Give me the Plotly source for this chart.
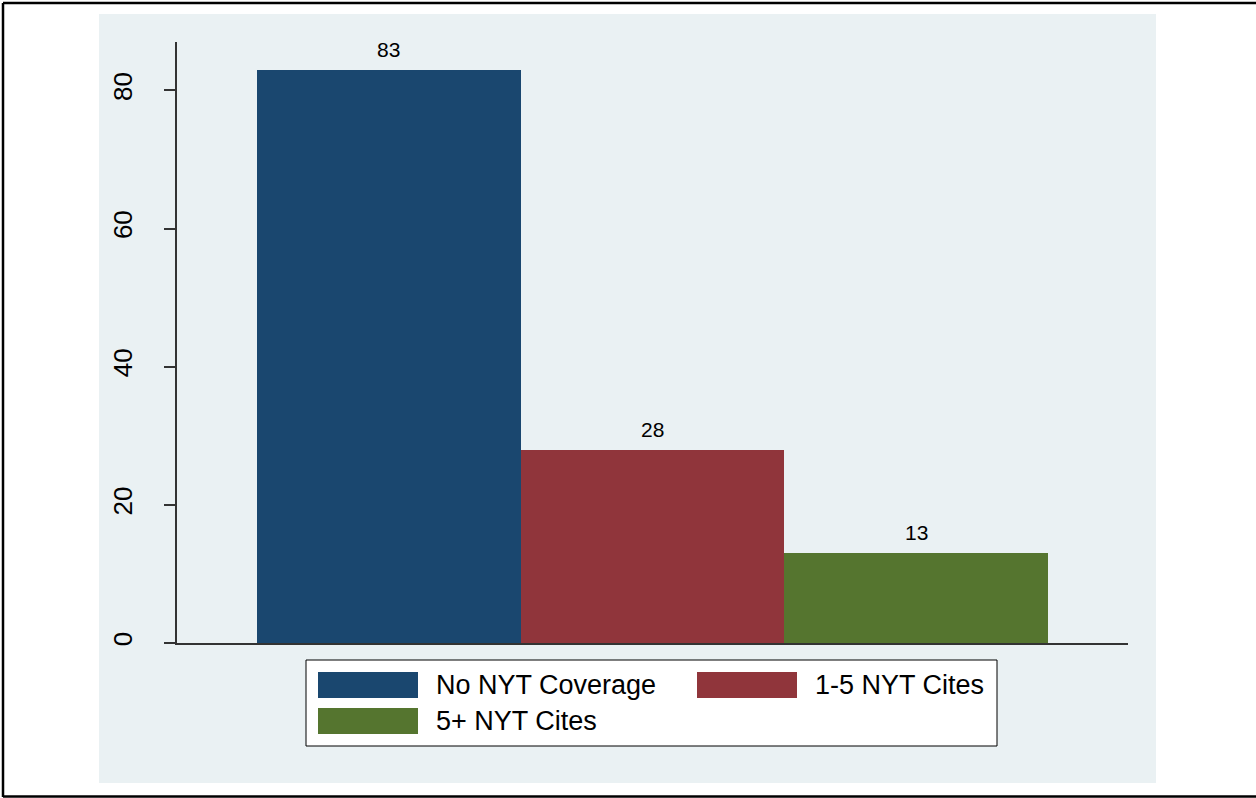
import plotly.graph_objects as go

# ---- data ----
categories = ["No NYT Coverage", "1-5 NYT Cites", "5+ NYT Cites"]
values = [83, 28, 13]
colors = ["#1a476f", "#90353b", "#55752f"]
ytick_vals = [0, 20, 40, 60, 80]

W, H = 1256, 798
L, R, T, B = 177, 1128, 42, 643  # plot area in pixels
PW, PH = R - L, B - T


def px(x):
    return (x - L) / PW


def py(y):
    return (B - y) / PH


fig = go.Figure()
fig.add_trace(go.Bar(
    x=categories, y=values, width=1.0,
    marker=dict(color=colors, line=dict(width=0)),
    showlegend=False, hoverinfo="skip",
))

annotations = []
for c, v in zip(categories, values):
    annotations.append(dict(x=c, y=v, xref="x", yref="y", text=str(v),
                            showarrow=False, yanchor="bottom", yshift=7,
                            font=dict(size=21, color="black")))

shapes = []
# outer light background
shapes.append(dict(type="rect", xref="paper", yref="paper",
                   x0=px(99), x1=px(1156), y0=py(783), y1=py(14),
                   fillcolor="#eaf1f3", line=dict(width=0), layer="below"))
# outer black border (left, top, bottom)
for (x0, y0, x1, y1) in [(3, 3, 3, 797), (3, 3, 1256, 3), (3, 796.5, 1256, 796.5)]:
    shapes.append(dict(type="line", xref="paper", yref="paper",
                       x0=px(x0), y0=py(y0), x1=px(x1), y1=py(y1),
                       line=dict(color="black", width=2.5)))
# legend box
shapes.append(dict(type="rect", xref="paper", yref="paper",
                   x0=px(306), x1=px(997), y0=py(746), y1=py(660),
                   fillcolor="white", line=dict(color="black", width=1)))
legend_pos = [(318, 672), (697, 672), (318, 708)]
for (lx, ly), col, name in zip(legend_pos, colors, categories):
    shapes.append(dict(type="rect", xref="paper", yref="paper",
                       x0=px(lx), x1=px(lx + 100), y0=py(ly + 26), y1=py(ly),
                       fillcolor=col, line=dict(width=0)))
    annotations.append(dict(x=px(lx + 116), y=py(ly + 13), xref="paper", yref="paper",
                            text=name, showarrow=False, xanchor="left", yanchor="middle",
                            font=dict(size=27, color="black")))

fig.update_layout(
    width=W, height=H,
    margin=dict(l=L, r=W - R, t=T, b=H - B, pad=0),
    paper_bgcolor="white", plot_bgcolor="white",
    font=dict(family="Liberation Sans, Arial, sans-serif", color="black"),
    bargap=0,
    shapes=shapes, annotations=annotations,
    xaxis=dict(range=[-0.803, 2.803], showticklabels=False, ticks="",
               showgrid=False, zeroline=False, showline=True,
               linecolor="#333333", linewidth=1.5),
    yaxis=dict(range=[0, 87], tickvals=ytick_vals, tickangle=-90,
               ticks="outside", ticklen=11, tickcolor="#333333", tickwidth=1.5,
               showgrid=True, gridcolor="#eaf1f3", gridwidth=2,
               zeroline=False, showline=True, linecolor="#333333", linewidth=1.5,
               tickfont=dict(size=26, color="black"), ticklabelstandoff=22),
)

fig.write_html("out.html", config={"displayModeBar": False},
               post_script="document.body.style.margin='0';document.body.style.padding='0';")
